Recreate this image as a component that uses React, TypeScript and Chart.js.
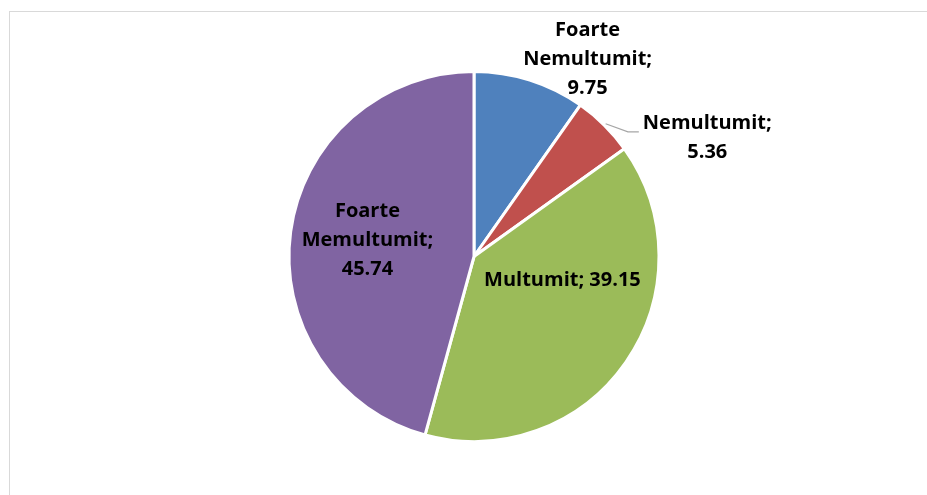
import React, { useEffect, useRef } from "react";
import { Chart, registerables } from "chart.js";

Chart.register(...registerables);

const categories = ["Foarte Nemultumit", "Nemultumit", "Multumit", "Foarte Memultumit"];
const values = [9.75, 5.36, 39.15, 45.74];
const colors = ["#4F81BD", "#C0504D", "#9BBB59", "#8064A2"];
// whether the label is wrapped word by word (true) or kept on one line (false)
const wrapLabel = [true, true, false, true];

function labelLines(i: number): string[] {
  const cat = categories[i];
  const v = values[i].toFixed(2);
  if (!wrapLabel[i]) return [`${cat}; ${v}`];
  const words = cat.split(" ");
  words[words.length - 1] += ";";
  return [...words, v];
}

// label centers expressed in pie-radius units relative to the pie center
const labelLayout = [
  { ox: 0.614, oy: -1.065 },
  { ox: 1.261, oy: -0.639, leader: [[0.832, -0.674], [0.891, -0.674]] },
  { ox: 0.478, oy: 0.13 },
  { ox: -0.576, oy: -0.09 },
];

const labelPlugin = {
  id: "pieLabels",
  afterDatasetsDraw(chart: any) {
    const meta = chart.getDatasetMeta(0);
    const ctx = chart.ctx as CanvasRenderingContext2D;
    const lineH = 29;
    ctx.save();
    ctx.font = "bold 20px 'Open Sans'";
    ctx.fillStyle = "#000000";
    ctx.textAlign = "center";
    ctx.textBaseline = "middle";
    meta.data.forEach((arc: any, i: number) => {
      const { x, y, outerRadius, startAngle, endAngle } = arc.getProps(
        ["x", "y", "outerRadius", "startAngle", "endAngle"],
        true
      );
      const r = outerRadius;
      const lay: any = labelLayout[i];
      const cx = x + lay.ox * r;
      const cy = y + lay.oy * r;
      const lines = labelLines(i);
      const top = cy - ((lines.length - 1) * lineH) / 2;
      lines.forEach((t, k) => ctx.fillText(t, cx, top + k * lineH));
      if (lay.leader) {
        const mid = (startAngle + endAngle) / 2;
        ctx.beginPath();
        ctx.strokeStyle = "#a6a6a6";
        ctx.lineWidth = 1.2;
        ctx.moveTo(x + Math.cos(mid) * (r + 2), y + Math.sin(mid) * (r + 2));
        lay.leader.forEach((p: number[]) => ctx.lineTo(x + p[0] * r, y + p[1] * r));
        ctx.stroke();
      }
    });
    ctx.restore();
  },
};

export default function App() {
  const ref = useRef<HTMLCanvasElement | null>(null);
  useEffect(() => {
    if (!ref.current) return;
    const chart = new Chart(ref.current, {
      type: "pie",
      data: {
        labels: categories,
        datasets: [
          {
            data: values,
            backgroundColor: colors,
            borderColor: "#ffffff",
            borderWidth: 3,
          },
        ],
      },
      options: {
        animation: false,
        responsive: false,
        maintainAspectRatio: false,
        layout: { padding: { top: 70, bottom: 52, left: 21, right: 0 } },
        plugins: {
          legend: { display: false },
          tooltip: { enabled: false },
        },
      },
      plugins: [labelPlugin],
    });
    return () => chart.destroy();
  }, []);

  return (
    <div
      style={{
        position: "fixed",
        left: 0,
        top: 0,
        width: 927,
        height: 495,
        overflow: "hidden",
        background: "#ffffff",
      }}
    >
      <div
        style={{
          position: "absolute",
          left: 9,
          top: 11,
          width: 1000,
          height: 600,
          border: "1px solid #d9d9d9",
          boxSizing: "border-box",
        }}
      />
      <canvas
        ref={ref}
        width={927}
        height={495}
        style={{ position: "absolute", left: 0, top: 0, width: 927, height: 495 }}
      />
    </div>
  );
}
